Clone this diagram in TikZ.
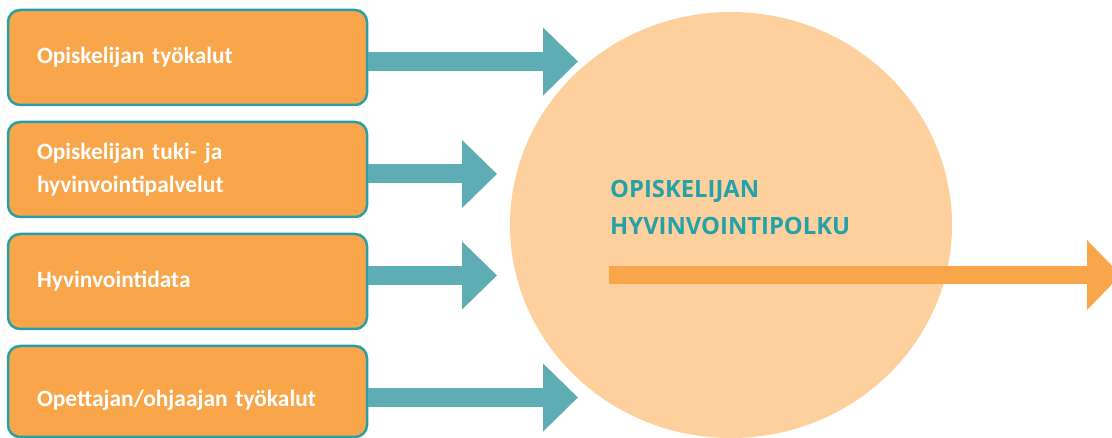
\documentclass[tikz,border=0pt]{standalone}
\usepackage{fontspec}
\setmainfont{Carlito}
\newfontfamily\pathfont{Open Sans}
\usetikzlibrary{arrows.meta,shapes.geometric}
\definecolor{boxorange}{HTML}{F9A64A}
\definecolor{boxteal}{HTML}{2A9EA4}
\definecolor{arrowteal}{HTML}{5FADB4}
\definecolor{circlepeach}{HTML}{FDD09E}
\definecolor{titleteal}{HTML}{24A2A8}

\begin{document}
\begin{tikzpicture}[x=1pt,y=-1pt,
  toolbox/.style={draw=boxteal,line width=2.5pt,fill=boxorange,rounded corners=12pt,
    minimum width=359pt,minimum height=95pt,text width=301pt,inner xsep=29pt,
    align=left,text=white,font=\bfseries\fontsize{23.4}{33}\selectfont},
  inarrow/.style={arrowteal,line width=19pt,-{Triangle[length=35pt,width=66pt]}},
  outarrow/.style={boxorange,line width=18pt,-{Triangle[length=34pt,width=68pt]}}]
\useasboundingbox (0,0) rectangle (1112,438);
% the path
\node[ellipse,fill=circlepeach,inner sep=0pt,minimum width=442pt,minimum height=426pt] (path) at (731,225) {} ;
\node[anchor=north west,inner sep=0pt,align=left,text=titleteal,
  font=\pathfont\bfseries\fontsize{23.8}{37}\selectfont] (title) at (610,180) {OPISKELIJAN\\HYVINVOINTIPOLKU} ;
\coordinate (p0) at (609,275) ;
\coordinate (p1) at (1121,275) ;
\draw[outarrow] (p0) -- (p1) ;
% the inputs
\node[toolbox] (b1) at (187.5,57.5) {Opiskelijan työkalut} ;
\node[toolbox] (b2) at (187.5,169.5) {Opiskelijan tuki- ja\\hyvinvointipalvelut} ;
\node[toolbox] (b3) at (187.5,281.5) {Hyvinvointidata} ;
\node[toolbox,minimum height=91pt,text height=31pt,text depth=0pt] (b4) at (187.5,391.5) {Opettajan/ohjaajan työkalut} ;
\coordinate (t1) at (578,61.5) ;
\coordinate (t2) at (497,174) ;
\coordinate (t3) at (497,275.5) ;
\coordinate (t4) at (578,397.5) ;
\draw[inarrow] (b1.east |- t1) -- (t1) ;
\draw[inarrow] (b2.east |- t2) -- (t2) ;
\draw[inarrow] (b3.east |- t3) -- (t3) ;
\draw[inarrow] (b4.east |- t4) -- (t4) ;
\end{tikzpicture}
\end{document}
